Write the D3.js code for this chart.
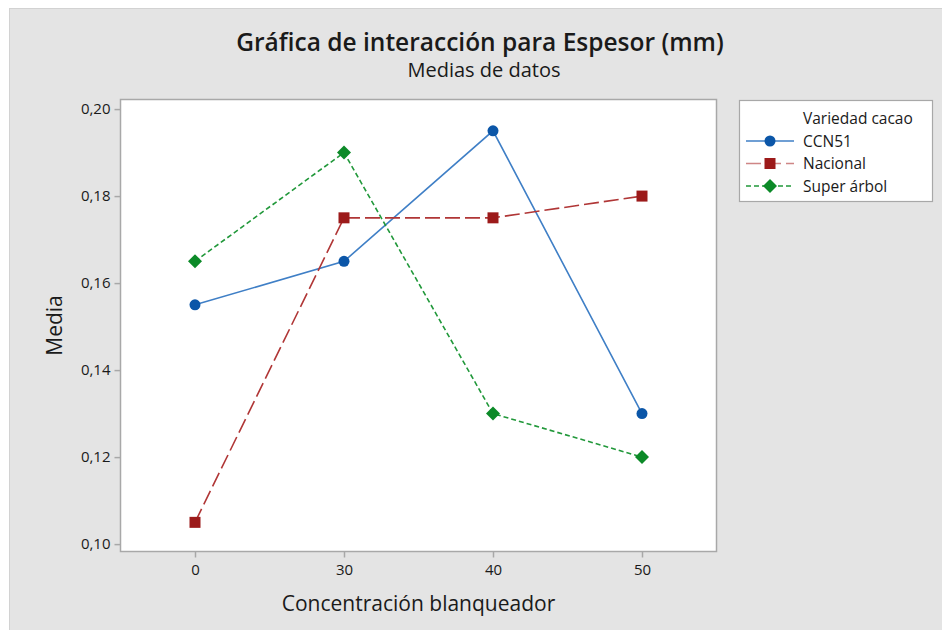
<!DOCTYPE html>
<html><head><meta charset="utf-8">
<script src="https://cdn.jsdelivr.net/npm/d3@7"></script>
<style>
html,body{margin:0;padding:0;background:#fff;}
svg{display:block;font-family:"Open Sans","Noto Sans",sans-serif;}
</style></head>
<body>
<svg id="chart" width="942" height="630"></svg>
<script>
const categories = ["0", "30", "40", "50"];
const seriesNames = ["CCN51", "Nacional", "Super árbol"];
const ccn51 = [0.155, 0.165, 0.195, 0.130];
const nacional = [0.105, 0.175, 0.175, 0.180];
const superArbol = [0.165, 0.190, 0.130, 0.120];
const yTicks = [0.10, 0.12, 0.14, 0.16, 0.18, 0.20];
const titleText = "Gráfica de interacción para Espesor (mm)";
const subtitleText = "Medias de datos";
const xLabel = "Concentración blanqueador";
const yLabel = "Media";
const legendTitle = "Variedad cacao";

const series = [
  {name: seriesNames[0], values: ccn51, line: "#3f7fc6", mark: "#0b56a8", dash: null, shape: "circle"},
  {name: seriesNames[1], values: nacional, line: "#b03636", mark: "#9c1a1a", dash: "15,5", shape: "square"},
  {name: seriesNames[2], values: superArbol, line: "#21983a", mark: "#0c8a28", dash: "5,3", shape: "diamond"}
];

const svg = d3.select("#chart");
svg.append("rect").attr("x", 9.5).attr("y", 8.5).attr("width", 940).attr("height", 630)
  .attr("fill", "#e4e4e4").attr("stroke", "#d2d2d2").attr("stroke-width", 1);

const plot = {left: 120.5, top: 99.5, right: 716.5, bottom: 551.5};
const x = d3.scalePoint().domain(categories).range([plot.left, plot.right]).padding(0.5);
const y = d3.scaleLinear().domain([0.0983, 0.2022]).range([plot.bottom, plot.top]);

svg.append("rect").attr("x", plot.left).attr("y", plot.top)
  .attr("width", plot.right - plot.left).attr("height", plot.bottom - plot.top)
  .attr("fill", "#fff").attr("stroke", "#a8a8a8").attr("stroke-width", 1.5);

const fmt = d => d3.format(".2f")(d).replace(".", ",");
const yAxis = svg.append("g").attr("transform", `translate(${plot.left},0)`)
  .call(d3.axisLeft(y).tickValues(yTicks).tickFormat(fmt).tickSize(6).tickPadding(4));
const xAxis = svg.append("g").attr("transform", `translate(0,${plot.bottom})`)
  .call(d3.axisBottom(x).tickSize(6).tickPadding(7));
[yAxis, xAxis].forEach(a => {
  a.select(".domain").remove();
  a.selectAll(".tick line").attr("stroke", "#a8a8a8").attr("stroke-width", 1.5);
  a.selectAll(".tick text").attr("fill", "#1a1a1a").style("font-size", "15px").style("font-weight", 500)
    .style("font-family", '"Open Sans","Noto Sans",sans-serif');
});

const lineGen = d3.line().x((d, i) => x(categories[i])).y(d => y(d));
series.forEach(s => {
  svg.append("path").datum(s.values).attr("d", lineGen)
    .attr("fill", "none").attr("stroke", s.line).attr("stroke-width", 1.6)
    .attr("stroke-dasharray", s.dash);
});

function drawMarker(g, shape, cx, cy, color) {
  if (shape === "circle") {
    g.append("circle").attr("cx", cx).attr("cy", cy).attr("r", 5.5).attr("fill", color);
  } else if (shape === "square") {
    g.append("rect").attr("x", cx - 5.5).attr("y", cy - 5.5).attr("width", 11).attr("height", 11).attr("fill", color);
  } else {
    g.append("path").attr("d", `M${cx},${cy-7}L${cx+7},${cy}L${cx},${cy+7}L${cx-7},${cy}Z`).attr("fill", color);
  }
}
series.forEach(s => {
  const g = svg.append("g");
  s.values.forEach((v, i) => drawMarker(g, s.shape, x(categories[i]), y(v), s.mark));
});

svg.append("text").attr("x", 480).attr("y", 51).attr("text-anchor", "middle")
  .style("font-size", "24.5px").style("font-weight", 600).attr("fill", "#1a1a1a").text(titleText);
svg.append("text").attr("x", 484).attr("y", 77).attr("text-anchor", "middle")
  .style("font-size", "20px").style("font-weight", 500).attr("fill", "#1a1a1a").text(subtitleText);
svg.append("text").attr("x", (plot.left + plot.right) / 2).attr("y", 611).attr("text-anchor", "middle")
  .style("font-size", "21px").style("font-weight", 500).attr("fill", "#1a1a1a").text(xLabel);
svg.append("text").attr("transform", `translate(62,${(plot.top + plot.bottom) / 2}) rotate(-90)`)
  .attr("text-anchor", "middle").style("font-size", "21px").style("font-weight", 500).attr("fill", "#1a1a1a").text(yLabel);

const lg = svg.append("g");
lg.append("rect").attr("x", 739.5).attr("y", 100.5).attr("width", 193).attr("height", 101)
  .attr("fill", "#fff").attr("stroke", "#a8a8a8").attr("stroke-width", 1.2);
lg.append("text").attr("x", 803).attr("y", 124).style("font-size", "15.5px").style("font-weight", 500).attr("fill", "#1a1a1a").text(legendTitle);
const rowY = [141, 163.5, 186];
series.forEach((s, i) => {
  lg.append("line").attr("x1", 746).attr("x2", 794).attr("y1", rowY[i]).attr("y2", rowY[i])
    .attr("stroke", s.line).attr("stroke-width", 1.6).attr("stroke-dasharray", s.dash)
    .attr("opacity", i === 1 ? 0.6 : 1);
  drawMarker(lg, s.shape, 770, rowY[i], s.mark);
  lg.append("text").attr("x", 803).attr("y", rowY[i] + 5.5).style("font-size", "15.5px").style("font-weight", 500).attr("fill", "#1a1a1a").text(s.name);
});
</script>
</body></html>
